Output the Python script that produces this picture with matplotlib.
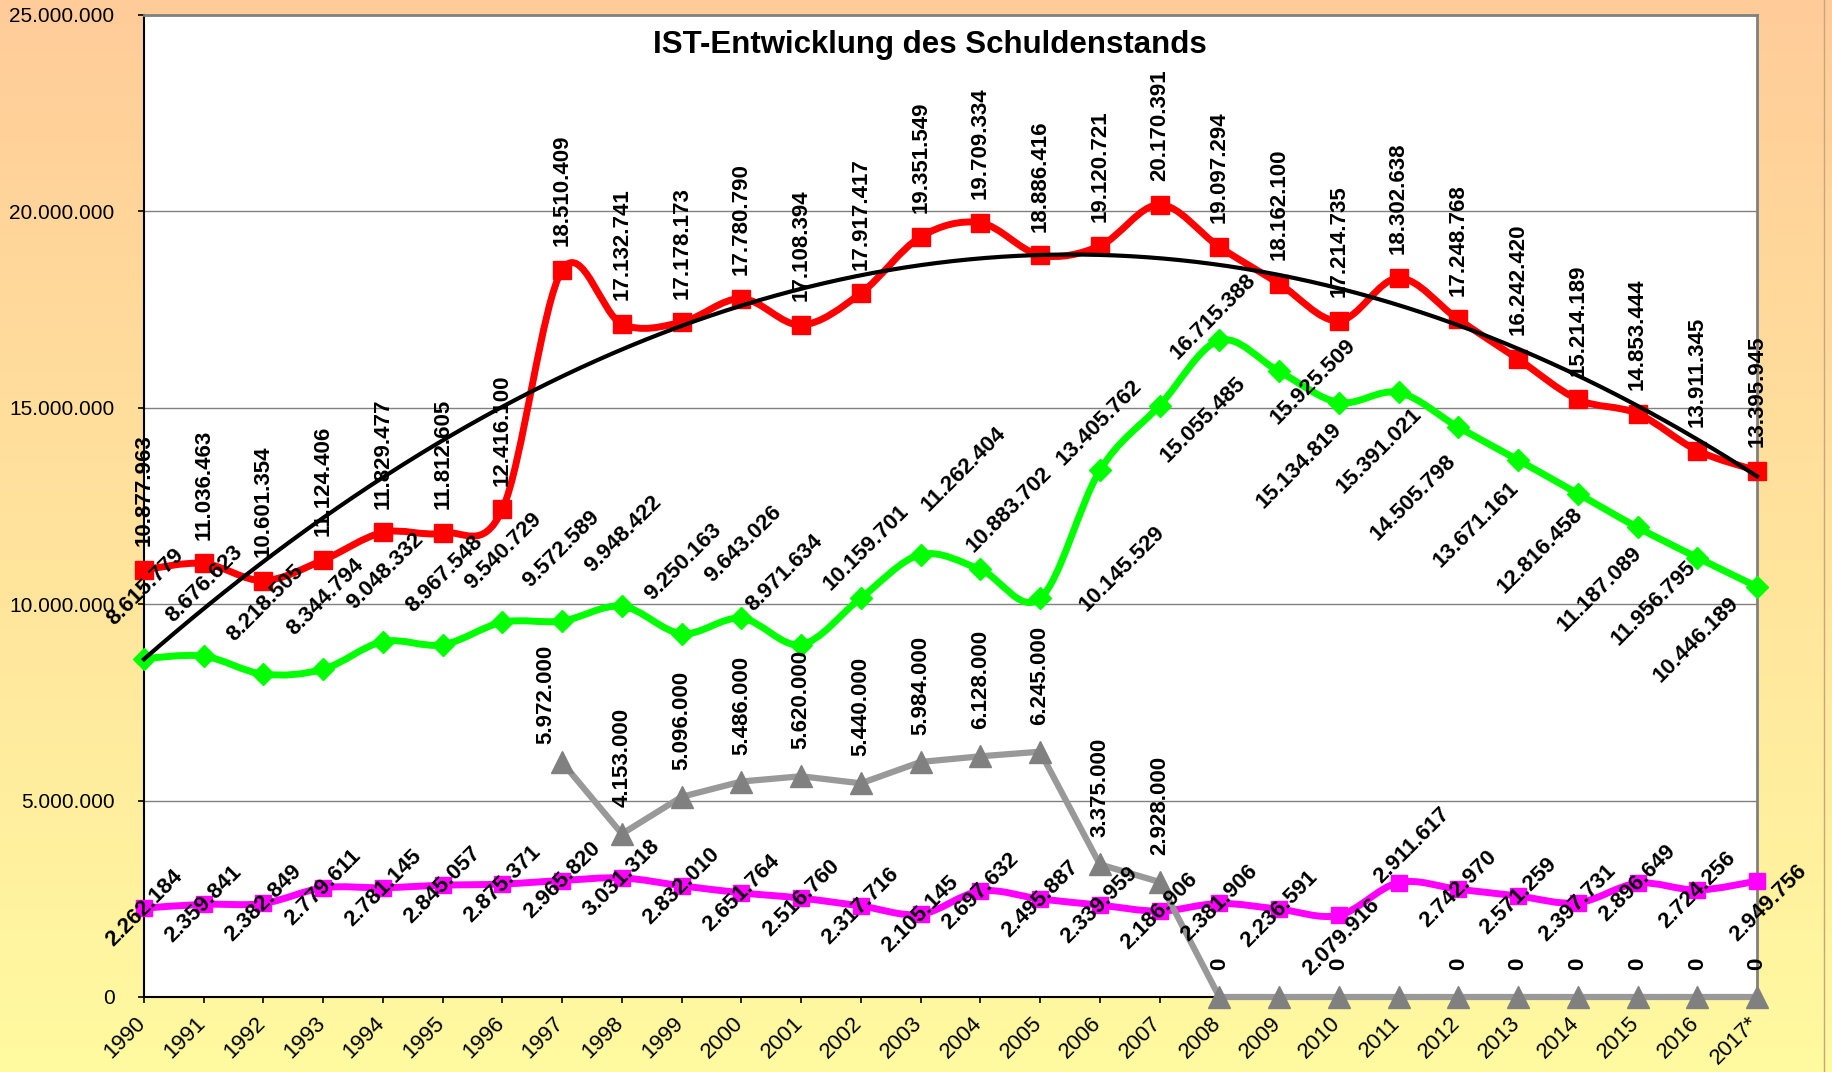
import numpy as np
import matplotlib
matplotlib.use("Agg")
import matplotlib.pyplot as plt
from matplotlib.path import Path
from matplotlib.patches import PathPatch
from matplotlib.ticker import FuncFormatter
from matplotlib.transforms import ScaledTranslation

plt.rcParams['font.family'] = ['Liberation Sans', 'DejaVu Sans']

# Daten
years = ['1990', '1991', '1992', '1993', '1994', '1995', '1996', '1997', '1998', '1999',
         '2000', '2001', '2002', '2003', '2004', '2005', '2006', '2007', '2008', '2009',
         '2010', '2011', '2012', '2013', '2014', '2015', '2016', '2017*']

red = [10877963, 11036463, 10601354, 11124406, 11829477, 11812605, 12416100, 18510409,
       17132741, 17178173, 17780790, 17108394, 17917417, 19351549, 19709334, 18886416,
       19120721, 20170391, 19097294, 18162100, 17214735, 18302638, 17248768, 16242420,
       15214189, 14853444, 13911345, 13395945]

green = [8615779, 8676623, 8218505, 8344794, 9048332, 8967548, 9540729, 9572589,
         9948422, 9250163, 9643026, 8971634, 10159701, 11262404, 10883702, 10145529,
         13405762, 15055485, 16715388, 15925509, 15134819, 15391021, 14505798, 13671161,
         12816458, 11956795, 11187089, 10446189]

magenta = [2262184, 2359841, 2382849, 2779611, 2781145, 2845057, 2875371, 2965820,
           3031318, 2832010, 2651764, 2516760, 2317716, 2105145, 2697632, 2495887,
           2339959, 2186906, 2381906, 2236591, 2079916, 2911617, 2742970, 2571259,
           2397731, 2896649, 2724256, 2949756]

gray = [None, None, None, None, None, None, None, 5972000,
        4153000, 5096000, 5486000, 5620000, 5440000, 5984000, 6128000, 6245000,
        3375000, 2928000, 0, 0, 0, 0, 0, 0,
        0, 0, 0, 0]


def fmt(v):
    return f"{v:,.0f}".replace(",", ".")


x = np.arange(len(years))
gray_arr = np.array([np.nan if v is None else v for v in gray], dtype=float)

# label positions (pixel offsets of label centre from point)
green_off = [(1, -72), (1, -72), (2, -71), (2, -72), (2, -71), (2, -71), (1, -71), (-1, -72),
             (1, -72), (2, -72), (2, -74), (-17, -72), (5, -50), (43, -85), (29, -60), (82, -30),
             (-1, -48), (44, 14), (-6, -24), (34, 10), (-40, 63), (-19, 58), (-45, 70), (-42, 65),
             (-38, 57), (-38, 62), (-43, 46), (-61, 53)]
magenta_off = [(0, 0)] * 28
magenta_off[20] = (3, 22)
magenta_off[21] = (13, -37)
magenta_off[27] = (11, 22)

green_text = [fmt(v) for v in green]
# im Original sind die Beschriftungen 2015/2016 vertauscht
green_text[25], green_text[26] = green_text[26], green_text[25]


def smooth_path(xs, ys):
    # Excel-artige Glaettung (Bezier)
    verts = [(xs[0], ys[0])]
    codes = [Path.MOVETO]
    n = len(xs)
    for i in range(n - 1):
        p0 = (xs[max(i - 1, 0)], ys[max(i - 1, 0)])
        p1 = (xs[i], ys[i])
        p2 = (xs[i + 1], ys[i + 1])
        p3 = (xs[min(i + 2, n - 1)], ys[min(i + 2, n - 1)])
        c1 = (p1[0] + (p2[0] - p0[0]) / 6, p1[1] + (p2[1] - p0[1]) / 6)
        c2 = (p2[0] - (p3[0] - p1[0]) / 6, p2[1] - (p3[1] - p1[1]) / 6)
        verts += [c1, c2, p2]
        codes += [Path.CURVE4] * 3
    return Path(verts, codes)


fig = plt.figure(figsize=(18.33, 10.72), dpi=100)

# Hintergrund-Verlauf
bg = fig.add_axes([0, 0, 1, 1], zorder=-10)
top = np.array([255, 204, 153]) / 255
bot = np.array([255, 250, 160]) / 255
t = np.linspace(0, 1, 256)[:, None]
grad = top[None, :] * (1 - t) + bot[None, :] * t
bg.imshow(grad[:, None, :], aspect='auto', extent=[0, 1, 0, 1])
bg.axis('off')
fig.add_artist(plt.Line2D([1824 / 1833, 1824 / 1833], [0, 1], color='#C9A67A', lw=1))

ax = fig.add_axes([144 / 1833, 75 / 1072, 1613 / 1833, 982 / 1072])
ax.set_facecolor('white')
ax.set_xlim(0, 27)
ax.set_ylim(0, 25000000)
ax.set_yticks(np.arange(0, 25000001, 5000000))
ax.yaxis.set_major_formatter(FuncFormatter(lambda v, p: fmt(v)))
ax.grid(axis='y', color='#808080', lw=1)
ax.set_axisbelow(True)

ax.spines['left'].set_color('black')
ax.spines['left'].set_linewidth(1.5)
ax.spines['bottom'].set_color('black')
ax.spines['bottom'].set_linewidth(1.5)
ax.spines['top'].set_color('#808080')
ax.spines['top'].set_linewidth(2)
ax.spines['right'].set_color('#808080')
ax.spines['right'].set_linewidth(2)

ax.set_xticks(x)
ax.set_xticklabels(years)
ax.tick_params(axis='x', length=4.3, width=1.2, pad=7, labelsize=16, direction='out')
ax.tick_params(axis='y', length=4.3, width=1.2, pad=17, labelsize=15, direction='out')
for lab in ax.get_xticklabels():
    lab.set_rotation(45)
    lab.set_ha('right')
    lab.set_transform(lab.get_transform() + ScaledTranslation(0.06, 0, fig.dpi_scale_trans))

# magenta
ax.add_patch(PathPatch(smooth_path(x, magenta), fc='none', ec='#FF00FF', lw=5,
                       joinstyle='round', capstyle='round', clip_on=False, zorder=3))
ax.plot(x, magenta, ls='none', marker='s', ms=11.5, color='#FF00FF', clip_on=False, zorder=3)

# grau
ax.plot(x, gray_arr, color='#999999', lw=4.5, clip_on=False, zorder=4)
ax.plot(x, gray_arr, ls='none', marker='^', ms=16, color='#808080', clip_on=False, zorder=4)

# gruen
ax.add_patch(PathPatch(smooth_path(x, green), fc='none', ec='#00FF00', lw=5,
                       joinstyle='round', capstyle='round', clip_on=False, zorder=5))
ax.plot(x, green, ls='none', marker='D', ms=11, color='#00FF00', clip_on=False, zorder=5)

# rot
ax.add_patch(PathPatch(smooth_path(x, red), fc='none', ec='#FF0000', lw=5,
                       joinstyle='round', capstyle='round', clip_on=False, zorder=6))
ax.plot(x, red, ls='none', marker='s', ms=12.5, color='#FF0000', clip_on=False, zorder=6)

# Trendlinie (Polynom 2. Grades)
coef = np.polyfit(x, red, 2)
xx = np.linspace(0, 27, 300)
ax.plot(xx, np.polyval(coef, xx), color='black', lw=3, zorder=7, clip_on=False)

pt = 0.72  # px -> pt bei 100 dpi
lab_kw = dict(textcoords='offset points', fontsize=16, fontweight='bold',
              annotation_clip=False, zorder=10)

for i, v in enumerate(red):
    ax.annotate(fmt(v), (x[i], v), xytext=(0, 17), rotation=90, ha='center', va='bottom', **lab_kw)

for i, v in enumerate(gray):
    if v is None:
        continue
    if v == 0 and years[i] in ('2009', '2011'):
        continue
    dx, gap = 0, 27
    if years[i] == '1997':
        dx, gap = -16, 18
    ax.annotate(fmt(v), (x[i], v), xytext=(dx * pt, gap * pt), rotation=90,
                ha='center', va='bottom', **lab_kw)

for i, v in enumerate(green):
    dx, dy = green_off[i]
    ax.annotate(green_text[i], (x[i], v), xytext=(dx * pt, -dy * pt), rotation=45,
                ha='center', va='center', **lab_kw)

for i, v in enumerate(magenta):
    dx, dy = magenta_off[i]
    ax.annotate(fmt(v), (x[i], v), xytext=(dx * pt, -dy * pt), rotation=45,
                ha='center', va='center', **lab_kw)

fig.text(930 / 1833, 1 - 53 / 1072, 'IST-Entwicklung des Schuldenstands', ha='center',
         va='baseline', fontsize=22.5, fontweight='bold')

fig.savefig('out.png', dpi=100)
